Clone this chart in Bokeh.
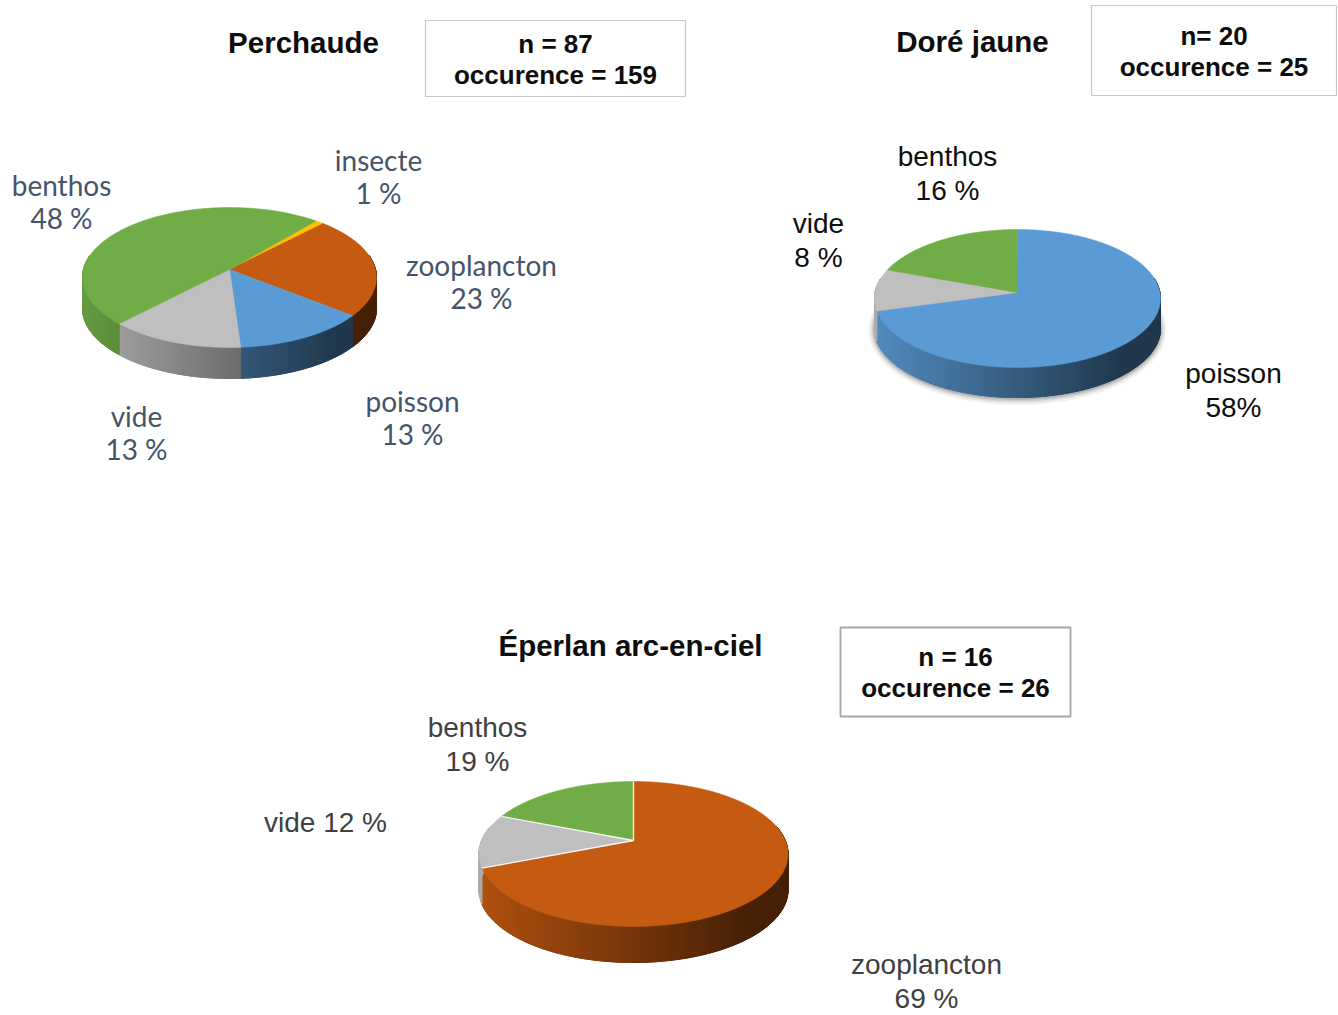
import numpy as np
from bokeh.plotting import figure
from bokeh.models import Range1d, ColumnDataSource
from bokeh.core.properties import value
from bokeh.embed import file_html
from bokeh.resources import INLINE

# ---------------- data ----------------
perchaude_cats = ["insecte", "zooplancton", "poisson", "vide", "benthos"]
perchaude_pct = [1, 23, 13, 13, 48]
perchaude_n, perchaude_occ = 87, 159

dore_cats = ["poisson", "vide", "benthos"]
dore_pct = [58, 8, 16]
dore_n, dore_occ = 20, 25

eperlan_cats = ["zooplancton", "vide", "benthos"]
eperlan_pct = [69, 12, 19]
eperlan_n, eperlan_occ = 16, 26

CAT_COLORS = {
    "benthos": "#70ad47",
    "insecte": "#ffc000",
    "zooplancton": "#c55a11",
    "poisson": "#5b9bd5",
    "vide": "#bfbfbf",
}

W, H = 1338, 1015

p = figure(width=W, height=H, x_range=Range1d(0, W), y_range=Range1d(H, 0),
           x_axis_type=None, y_axis_type=None, toolbar_location=None,
           output_backend="svg", min_border=0, outline_line_color=None,
           background_fill_color="white", border_fill_color="white")
p.grid.visible = False


def hex_rgb(c):
    c = c.lstrip("#")
    return tuple(int(c[i:i + 2], 16) for i in (0, 2, 4))


def shade(c, s):
    r, g, b = hex_rgb(c)
    return "#%02x%02x%02x" % tuple(int(max(0, min(255, round(v * s)))) for v in (r, g, b))


class Pie3D:
    """Tilted pie with a little perspective: far half flatter than near half."""

    def __init__(self, cx, cy, rx, far, near, depth, first_angle):
        self.cx, self.cy, self.depth = cx, cy, depth
        self.k = (near - far) / (near + far)
        self.ry0 = far * (1 + self.k)
        self.rx0 = rx * np.sqrt(1 - self.k ** 2)
        self.rx = rx
        self.t0 = -90.0 + first_angle  # screen angle, 0 = right, +90 = towards viewer

    def rim(self, tdeg, dy=0.0):
        t = np.radians(tdeg)
        f = 1.0 / (1.0 - self.k * np.sin(t))
        return self.cx + self.rx0 * np.cos(t) * f, self.cy + self.ry0 * np.sin(t) * f + dy

    def spans(self, values):
        tot = float(sum(values))
        a = self.t0
        out = []
        for v in values:
            b = a + 360.0 * v / tot
            out.append((a, b))
            a = b
        return out

    def side_shade(self, x):
        u = (x - (self.cx - self.rx)) / (2 * self.rx)
        return max(0.36, 0.9 - 0.62 * u)


def draw_pie(pie, cats, values, border=None, shadow=False):
    spans = pie.spans(values)
    colors = [CAT_COLORS[c] for c in cats]

    if shadow:
        tt = np.linspace(0, 360, 241)
        for e, a in [(6, 0.05), (4, 0.07), (2.5, 0.09), (1.2, 0.12)]:
            t = np.radians(tt)
            f = 1.0 / (1.0 - pie.k * np.sin(t))
            xs = pie.cx + (pie.rx0 + e) * np.cos(t) * f
            ys = pie.cy + pie.depth + 1 + (pie.ry0 + e) * np.sin(t) * f
            p.patch(list(xs), list(ys), fill_color="#000000", fill_alpha=a, line_color=None)

    # side wall: one backing piece per slice, then narrow strips shaded
    # lighter on the left and darker on the right
    bx, by, bc = [], [], []
    sx, sy, sc = [], [], []
    lo, hi = -12.0, 192.0
    for (a, b), col in zip(spans, colors):
        for off in (-360.0, 0.0, 360.0):
            s0, s1 = max(a + off, lo), min(b + off, hi)
            if s1 <= s0:
                continue
            n = max(1, int(np.ceil((s1 - s0) / 1.0)))
            edges = np.linspace(s0, s1, n + 1)
            ex, ey = pie.rim(edges)
            bx.append(list(ex) + list(ex[::-1]))
            by.append(list(ey) + list(ey[::-1] + pie.depth))
            bc.append(shade(col, pie.side_shade(float(np.mean(ex)))))
            for i in range(n):
                x1, y1, x2, y2 = ex[i], ey[i], ex[i + 1], ey[i + 1]
                sx.append([x1, x2, x2, x1])
                sy.append([y1, y2, y2 + pie.depth, y1 + pie.depth])
                sc.append(shade(col, pie.side_shade(0.5 * (x1 + x2))))
    p.patches(bx, by, fill_color=bc, line_color=bc, line_width=0.8)
    p.patches(sx, sy, fill_color=sc, line_color=sc, line_width=1.0)

    # top face
    tx, ty = [], []
    for (a, b) in spans:
        n = max(2, int(np.ceil((b - a) / 0.5)))
        xs, ys = pie.rim(np.linspace(a, b, n + 1))
        tx.append([pie.cx] + list(xs))
        ty.append([pie.cy] + list(ys))
    p.patches(tx, ty, fill_color=colors, line_color=colors, line_width=0.5)

    # thin separators between slices on the top face
    if border:
        ends = [a for (a, b) in spans]
        rx_, ry_ = pie.rim(np.array(ends))
        p.segment(x0=[pie.cx] * len(ends), y0=[pie.cy] * len(ends), x1=list(rx_), y1=list(ry_),
                  line_color=border, line_width=1.3, line_alpha=0.9)


def draw_labels(cats, values, fmts, pos, font, size, color, lh):
    texts = [f.format(c=c, v=v) for f, c, v in zip(fmts, cats, values)]
    src = ColumnDataSource(dict(x=[q[0] for q in pos], y=[q[1] for q in pos], t=texts))
    p.text("x", "y", text="t", source=src, text_font=value(font), text_font_size=size,
           text_color=color, text_align="center", text_baseline="middle",
           text_line_height=lh)


def draw_header(title, tpos, n_txt, occ_txt, box, box_color, box_width):
    left, right, top, bottom = box
    p.quad(left=[left], right=[right], top=[top], bottom=[bottom], fill_color="white",
           line_color=box_color, line_width=box_width)
    p.text([tpos[0]], [tpos[1]], text=[title], text_font=value("Liberation Sans"),
           text_font_style="bold", text_font_size="29.5px", text_color="#0d0d0d",
           text_align="center", text_baseline="middle")
    xc = 0.5 * (left + right)
    ym = 0.5 * (top + bottom)
    p.text([xc, xc], [ym - 15, ym + 16], text=[n_txt, occ_txt], text_font=value("Liberation Sans"),
           text_font_style="bold", text_font_size="26px", text_color="#0d0d0d",
           text_align="center", text_baseline="middle")


# ---------------- Perchaude ----------------
pie1 = Pie3D(cx=229, cy=269, rx=147, far=62, near=78, depth=31, first_angle=40.2)
draw_pie(pie1, perchaude_cats, perchaude_pct)
draw_labels(perchaude_cats, perchaude_pct, ["{c}\n{v} %"] * 5,
            [(378, 176), (481, 281), (412, 417), (136, 432), (61, 201)],
            "Lato", "28px", "#44546a", 0.96)
draw_header("Perchaude", (303, 42), f"n = {perchaude_n}", f"occurence = {perchaude_occ}",
            (425, 685, 20, 96), "#c8c8c8", 1.2)

# ---------------- Doré jaune ----------------
pie2 = Pie3D(cx=1017, cy=292, rx=143, far=63, near=75, depth=30, first_angle=0)
draw_pie(pie2, dore_cats, dore_pct, shadow=True)
draw_labels(dore_cats, dore_pct, ["{c}\n{v}%", "{c}\n{v} %", "{c}\n{v} %"],
            [(1233, 390), (818, 240), (947, 173)],
            "Liberation Sans", "28px", "#0d0d0d", 1.08)
draw_header("Doré jaune", (972, 41), f"n= {dore_n}", f"occurence = {dore_occ}",
            (1091, 1336, 5, 95), "#c8c8c8", 1.2)

# ---------------- Éperlan arc-en-ciel ----------------
pie3 = Pie3D(cx=633, cy=840, rx=154.5, far=59, near=86, depth=36, first_angle=0)
draw_pie(pie3, eperlan_cats, eperlan_pct, border="#ffffff")
draw_labels(eperlan_cats, eperlan_pct, ["{c}\n{v} %", "{c} {v} %", "{c}\n{v} %"],
            [(926, 981), (325, 822), (477, 744)],
            "Liberation Sans", "28px", "#404040", 1.08)
draw_header("Éperlan arc-en-ciel", (630, 645), f"n = {eperlan_n}", f"occurence = {eperlan_occ}",
            (840, 1070, 627, 716), "#a6a6a6", 1.8)

open("out.html", "w").write(file_html(p, INLINE))
